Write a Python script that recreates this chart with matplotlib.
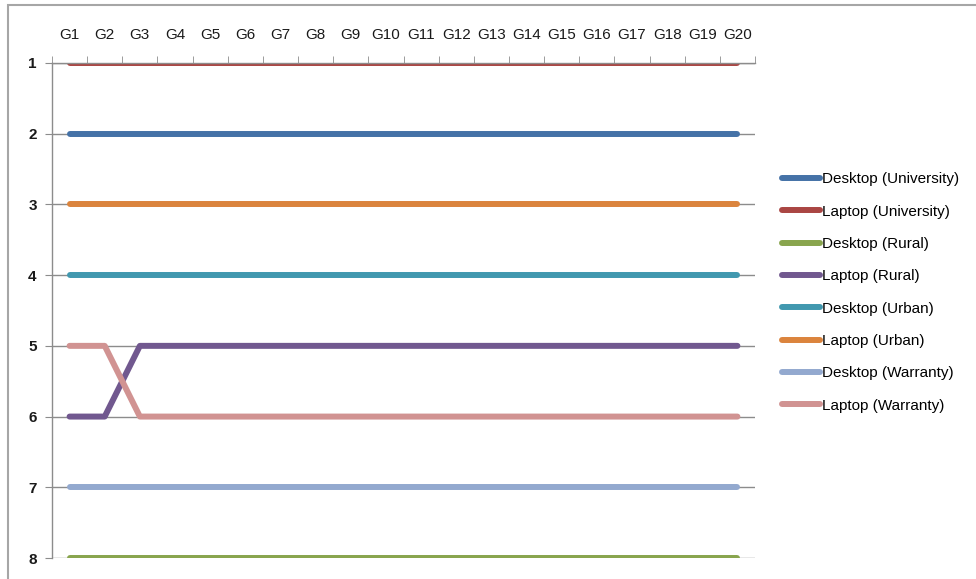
import matplotlib.pyplot as plt
from matplotlib.patches import Rectangle
from matplotlib.ticker import FixedLocator

groups = [f'G{i}' for i in range(1, 21)]
series_names = ['Desktop (University)', 'Laptop (University)', 'Desktop (Rural)',
                'Laptop (Rural)', 'Desktop (Urban)', 'Laptop (Urban)',
                'Desktop (Warranty)', 'Laptop (Warranty)']
desktop_university = [2] * 20
laptop_university = [1] * 20
desktop_rural = [8] * 20
laptop_rural = [6, 6] + [5] * 18
desktop_urban = [4] * 20
laptop_urban = [3] * 20
desktop_warranty = [7] * 20
laptop_warranty = [5, 5] + [6] * 18
colors = ['#4572A7', '#AA4643', '#89A54E', '#71588F',
          '#4198AF', '#DB843D', '#93A9CF', '#D19392']

series = [desktop_university, laptop_university, desktop_rural, laptop_rural,
          desktop_urban, laptop_urban, desktop_warranty, laptop_warranty]

plt.rcParams['font.family'] = ['Liberation Sans', 'DejaVu Sans']

fig = plt.figure(figsize=(9.76, 5.79), dpi=100)
fig.patches.append(Rectangle((8 / 976, -0.1), 1.2, 0.1 + 1 - 5 / 579,
                             transform=fig.transFigure, fill=False,
                             edgecolor='#A6A6A6', linewidth=1.5))

ax = fig.add_axes([52 / 976, 1 - 558 / 579, (755 - 52) / 976, (558 - 63) / 579])
x = list(range(len(groups)))
for name, vals, c in zip(series_names, series, colors):
    ax.plot(x, vals, color=c, linewidth=4.3, solid_capstyle='round',
            solid_joinstyle='round', label=name)

ax.set_xlim(-0.5, len(groups) - 0.5)
ax.set_ylim(8, 1)
ax.set_yticks(range(1, 9))
ax.yaxis.grid(True, color='#8C8C8C', linewidth=1)
ax.set_axisbelow(True)

ax.xaxis.tick_top()
ax.set_xticks(x)
ax.set_xticklabels(groups, fontsize=11, color='#1A1A1A')
ax.xaxis.set_minor_locator(FixedLocator([i + 0.5 for i in range(-1, len(groups))]))
ax.tick_params(axis='x', which='major', length=0, pad=15)
ax.tick_params(axis='x', which='minor', length=5, color='#8C8C8C', direction='out')
ax.tick_params(axis='y', length=5, color='#8C8C8C', pad=6, labelsize=11)
for lbl in ax.get_yticklabels():
    lbl.set_fontweight('bold')
    lbl.set_color('#1A1A1A')

for side in ['right', 'bottom']:
    ax.spines[side].set_visible(False)
for side in ['left', 'top']:
    ax.spines[side].set_color('#8C8C8C')
    ax.spines[side].set_linewidth(1)

fig.legend(loc='center left', bbox_to_anchor=(782 / 976, 1 - 292.5 / 579),
           frameon=False, fontsize=11, handlelength=2.5, handletextpad=0.15,
           labelspacing=1.2, borderpad=0, borderaxespad=0)

fig.savefig('out.png', dpi=100)
